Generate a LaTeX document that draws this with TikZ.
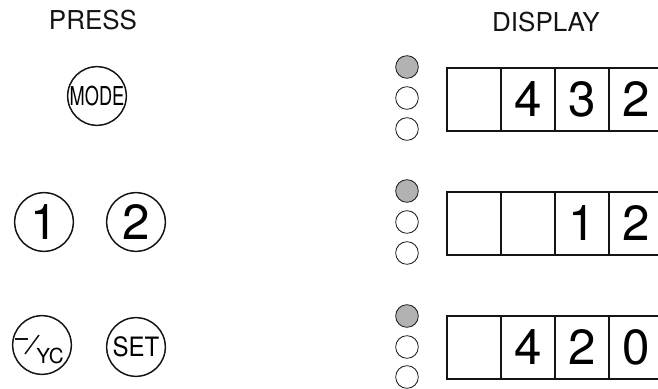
\documentclass[tikz,border=0pt]{standalone}
\usepackage{fontspec}
\setmainfont{TeX Gyre Heros}
\usetikzlibrary{positioning}
\definecolor{ledgray}{RGB}{178, 178, 178}
\definecolor{inkblack}{RGB}{20, 20, 20}

\begin{document}
\begin{tikzpicture}[
        x=0.75pt, y=-0.75pt,
        key/.style={draw=inkblack, circle, line width=1.1pt, minimum size=44pt, inner sep=0pt},
        led/.style={draw=inkblack, circle, line width=0.6pt, minimum size=17pt, inner sep=0pt},
        ledon/.style={led, fill=ledgray},
        cell/.style={draw=inkblack, rectangle, line width=1.3pt, minimum width=40.5pt, minimum height=47pt, inner sep=0pt,
            font=\fontsize{37}{40}\selectfont},
        heading/.style={font=\fontsize{19.5}{22}\selectfont, text=inkblack}
    ]
    \clip (0,0) rectangle (658,389);

    % headings
    \node[heading] (press) at (93,20) {PRESS};
    \node[heading] (display) at (546,22) {DISPLAY};

    % MODE
    \node[key, font=\fontsize{19.5}{22}\selectfont] (mode) at (97,96) {\scalebox{0.7}[1]{MODE}};
    \node[ledon] (led1a) at (407,67) {};
    \node[led] (led1b) at (407,98) {};
    \node[led] (led1c) at (407,129) {};
    \node[cell] (c1a) at (474,99.5) {};
    \node[cell] (c1b) at (528,99.5) {4};
    \node[cell] (c1c) at (582,99.5) {3};
    \node[cell] (c1d) at (636,99.5) {2};

    % 1 2
    \node[key, font=\fontsize{37}{40}\selectfont] (one) at (44,222) {1};
    \node[key, font=\fontsize{37}{40}\selectfont] (two) at (136,222) {2};
    \node[ledon] (led2a) at (407,191) {};
    \node[led] (led2b) at (407,222) {};
    \node[led] (led2c) at (407,253) {};
    \node[cell] (c2a) at (474,223.5) {};
    \node[cell] (c2b) at (528,223.5) {};
    \node[cell] (c2c) at (582,223.5) {1};
    \node[cell] (c2d) at (636,223.5) {2};

    % -/YC  SET
    \node[key] (yc) at (42,345) {};
    \draw[inkblack, line width=1.1pt] (15,339) -- (28,339);
    \draw[inkblack, line width=1.1pt] (39,335) -- (25,354);
    \node[font=\fontsize{15.5}{18}\selectfont, inner sep=0pt] (yctext) at (50,356) {YC};
    \node[key, font=\fontsize{20}{22}\selectfont] (set) at (136,347) {\scalebox{0.9}[1]{SET}};
    \node[ledon] (led3a) at (407,316) {};
    \node[led] (led3b) at (407,347) {};
    \node[led] (led3c) at (407,377) {};
    \node[cell] (c3a) at (474,347.5) {};
    \node[cell] (c3b) at (528,347.5) {4};
    \node[cell] (c3c) at (582,347.5) {2};
    \node[cell] (c3d) at (636,347.5) {0};
\end{tikzpicture}
\end{document}
